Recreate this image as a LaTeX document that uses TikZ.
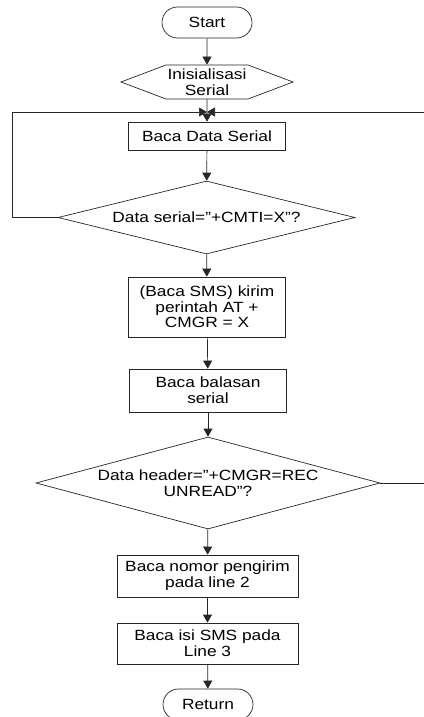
\documentclass[tikz,border=0pt]{standalone}
\usepackage{fontspec}
\setmainfont{Liberation Sans}[FakeStretch=1.17]
\usetikzlibrary{shapes.geometric,shapes.misc,shapes.symbols,arrows.meta}

\begin{document}
\begin{tikzpicture}[x=1pt, y=1pt,
    font=\fontsize{14.8}{15.7}\selectfont,
    every node/.style={draw=black!85, line width=0.7pt, inner sep=2pt, align=center},
    term/.style={rounded rectangle, minimum width=94pt, minimum height=31pt},
    prep/.style={signal, signal to=west and east, signal pointer angle=41.4,
        minimum width=172pt, minimum height=34pt, inner sep=0pt},
    proc/.style={rectangle, minimum width=157pt},
    cond/.style={diamond, inner sep=0pt},
    flow/.style={draw=black!85, line width=0.7pt, -{Triangle[length=8pt,width=9pt]}},
    line/.style={draw=black!85, line width=0.7pt}]
    \useasboundingbox (0,0) rectangle (423,-717);

    % main column
    \node[term] (start) at (207,-22.5) {Start};
    \node[prep] (init) at (207,-82) {Inisialisasi\\Serial};
    \node[proc, minimum height=28pt] (read) at (207,-136) {Baca Data Serial};
    \node[cond, aspect=4.07, minimum width=297pt, minimum height=73pt] (cmti) at (206.5,-217.5) {Data serial=”+CMTI=X”?};
    \node[proc, minimum height=60pt] (sms) at (207,-307) {(Baca SMS) kirim\\perintah AT +\\CMGR = X};
    \node[proc, minimum height=43pt] (reply) at (208,-390.5) {Baca balasan\\serial};
    \node[cond, aspect=3.74, minimum width=344pt, minimum height=92pt] (head) at (208,-483) {Data header=”+CMGR=REC\\UNREAD”?};
    \node[proc, minimum width=181pt, minimum height=42pt] (num) at (207.5,-576) {Baca nomor pengirim\\pada line 2};
    \node[proc, minimum width=181pt, minimum height=41pt] (isi) at (207.5,-643.5) {Baca isi SMS pada\\Line 3};
    \node[term] (ret) at (208,-704.5) {Return};

    % loop points
    \coordinate (merge) at (207,-112);
    \coordinate (lft) at (12,-112);
    \coordinate (rgt) at (430,-112);

    \draw[flow] (start) -- (init);
    \draw[flow] (init) -- (read);
    \draw[flow] (read) -- (cmti);
    \draw[flow] (cmti) -- (sms);
    \draw[flow] (sms) -- (reply);
    \draw[flow] (reply) -- (head);
    \draw[flow] (head) -- (num);
    \draw[flow] (num) -- (isi);
    \draw[flow] (isi) -- (ret);

    \draw[line] (cmti.west) -| (lft);
    \draw[flow] (lft) -- (merge);
    \draw[line] (head.east) -| (rgt);
    \draw[flow] (rgt) -- (merge);
\end{tikzpicture}
\end{document}
